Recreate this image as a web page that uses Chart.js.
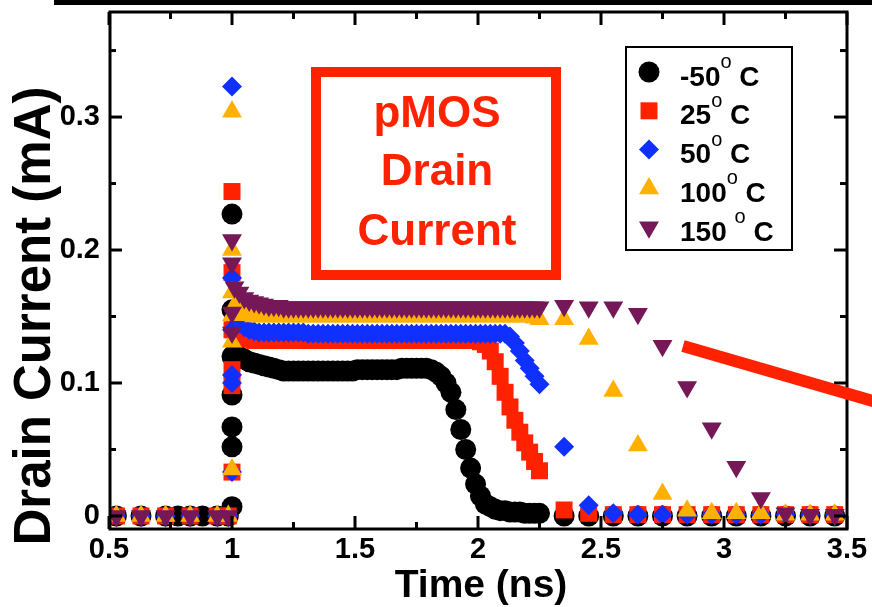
<!DOCTYPE html>
<html>
<head>
<meta charset="utf-8">
<title>pMOS Drain Current</title>
<script src="https://cdn.jsdelivr.net/npm/chart.js@4.4.1/dist/chart.umd.min.js"></script>
<style>
    body { margin: 0; background: #fff; }
    canvas { display: block; }
</style>
</head>
<body>
<canvas id="drainChart" width="872" height="607"></canvas>
<script>
// temperatures (legend)
const tempLabels = ['-50', '25', '50', '100', '150 '];

// axis ticks
const xMajorTicks = [0.5, 1, 1.5, 2, 2.5, 3, 3.5];
const xMinorTicks = [0.75, 1.25, 1.75, 2.25, 2.75, 3.25];
const yMajorTicks = [0, 0.1, 0.2, 0.3];
const yMinorTicks = [0.05, 0.15, 0.25, 0.35];

// sample times (ns)
const preTimes = [0.53, 0.63, 0.73, 0.83, 0.94, 0.985];
const blackPreTimes = [0.53, 0.63, 0.73, 0.78, 0.83, 0.88, 0.94, 0.985];
const spikeTime = 1.0;
const denseTimes = [
    1.01, 1.03, 1.05, 1.07, 1.09, 1.11, 1.13, 1.15, 1.17, 1.19,
    1.21, 1.23, 1.25, 1.27, 1.29, 1.31, 1.33, 1.35, 1.37, 1.39,
    1.41, 1.43, 1.45, 1.47, 1.49, 1.51, 1.53, 1.55, 1.57, 1.59,
    1.61, 1.63, 1.65, 1.67, 1.69, 1.71, 1.73, 1.75, 1.77, 1.79,
    1.81, 1.83, 1.85, 1.87, 1.89, 1.91, 1.93, 1.95, 1.97, 1.99,
    2.01, 2.03, 2.05, 2.07, 2.09, 2.11, 2.13, 2.15, 2.17, 2.19,
    2.21, 2.23, 2.25
];
const tailTimes = [2.35, 2.45, 2.55, 2.65, 2.75, 2.85, 2.95, 3.05, 3.15, 3.25, 3.35, 3.45];

// drain current (mA)
const preZeros = [0, 0, 0, 0, 0, 0];
const blackPreZeros = [0, 0, 0, 0, 0, 0, 0, 0];

// -50 C
const m50Spike = [0.227, 0.155, 0.12, 0.091, 0.067, 0.052, 0.007];
const m50Dense = [
    0.122, 0.120, 0.118, 0.116, 0.115, 0.114, 0.113, 0.112, 0.111, 0.110,
    0.109, 0.109, 0.109, 0.109, 0.109, 0.109, 0.109, 0.109, 0.109, 0.109,
    0.109, 0.109, 0.109, 0.109, 0.109, 0.110, 0.110, 0.110, 0.110, 0.110,
    0.110, 0.110, 0.110, 0.110, 0.111, 0.111, 0.111, 0.111, 0.111, 0.111,
    0.110, 0.108, 0.105, 0.100, 0.093, 0.080, 0.065, 0.050, 0.036, 0.024,
    0.015, 0.009, 0.007, 0.005, 0.004, 0.004, 0.003, 0.003, 0.003, 0.002,
    0.002, 0.002, 0.002
];
const m50Tail = [0, 0, 0, 0, 0, 0, 0, 0, 0, 0, 0, 0];

// 25 C
const t25Spike = [0.244, 0.183, 0.14, 0.11, 0.098, 0.033];
const t25Dense = [
    0.140, 0.136, 0.134, 0.133, 0.132, 0.132, 0.132, 0.132, 0.132, 0.132,
    0.132, 0.132, 0.132, 0.132, 0.132, 0.132, 0.132, 0.132, 0.132, 0.132,
    0.132, 0.132, 0.132, 0.132, 0.132, 0.132, 0.132, 0.132, 0.132, 0.132,
    0.132, 0.132, 0.132, 0.132, 0.132, 0.132, 0.132, 0.132, 0.132, 0.132,
    0.132, 0.132, 0.132, 0.132, 0.132, 0.132, 0.132, 0.132, 0.132, 0.132,
    0.131, 0.129, 0.124, 0.116, 0.105, 0.093, 0.082, 0.072, 0.063, 0.055,
    0.048, 0.041, 0.034
];
const t25Tail = [0.0045, 0.002, 0.001, 0.001, 0.001, 0.001, 0.001, 0.001, 0.001, 0.001, 0.001, 0.001];

// 50 C
const t50Spike = [0.323, 0.179, 0.14, 0.106, 0.1, 0.033];
const t50Dense = [
    0.150, 0.145, 0.142, 0.140, 0.139, 0.138, 0.138, 0.138, 0.138, 0.138,
    0.138, 0.138, 0.138, 0.138, 0.138, 0.137, 0.137, 0.137, 0.137, 0.137,
    0.137, 0.137, 0.137, 0.137, 0.137, 0.137, 0.137, 0.137, 0.137, 0.137,
    0.137, 0.137, 0.137, 0.137, 0.137, 0.137, 0.137, 0.137, 0.137, 0.137,
    0.137, 0.137, 0.137, 0.137, 0.137, 0.137, 0.137, 0.137, 0.137, 0.137,
    0.137, 0.137, 0.137, 0.137, 0.137, 0.137, 0.135, 0.130, 0.124, 0.117,
    0.111, 0.105, 0.099
];
const t50Tail = [0.052, 0.008, 0.002, 0.001, 0.001, 0.001, 0.001, 0.001, 0.001, 0.001, 0.001, 0.001];

// 100 C
const t100Spike = [0.304, 0.2, 0.168, 0.151, 0.131, 0.035];
const t100Dense = [
    0.158, 0.154, 0.152, 0.151, 0.150, 0.150, 0.150, 0.150, 0.150, 0.150,
    0.150, 0.150, 0.150, 0.150, 0.150, 0.150, 0.150, 0.150, 0.150, 0.150,
    0.150, 0.150, 0.150, 0.150, 0.150, 0.150, 0.150, 0.150, 0.150, 0.150,
    0.150, 0.150, 0.150, 0.150, 0.150, 0.150, 0.150, 0.150, 0.150, 0.150,
    0.150, 0.150, 0.150, 0.150, 0.150, 0.150, 0.150, 0.150, 0.150, 0.150,
    0.150, 0.150, 0.150, 0.150, 0.150, 0.150, 0.150, 0.150, 0.150, 0.150,
    0.150, 0.149, 0.148
];
const t100Tail = [0.148, 0.133, 0.094, 0.053, 0.0165, 0.004, 0.002, 0.002, 0.002, 0.001, 0.001, 0.001];

// 150 C
const t150Spike = [0.2075, 0.19, 0.153, 0.138];
const t150Dense = [
    0.172, 0.168, 0.164, 0.162, 0.161, 0.160, 0.159, 0.158, 0.158, 0.158,
    0.157, 0.157, 0.157, 0.157, 0.157, 0.157, 0.157, 0.157, 0.157, 0.157,
    0.157, 0.157, 0.157, 0.157, 0.157, 0.157, 0.157, 0.157, 0.157, 0.157,
    0.157, 0.157, 0.157, 0.157, 0.157, 0.157, 0.157, 0.157, 0.157, 0.157,
    0.157, 0.157, 0.157, 0.157, 0.157, 0.157, 0.157, 0.157, 0.157, 0.157,
    0.157, 0.157, 0.157, 0.157, 0.157, 0.157, 0.157, 0.157, 0.157, 0.157,
    0.157, 0.157, 0.157
];
const t150Tail = [0.158, 0.157, 0.157, 0.152, 0.128, 0.097, 0.066, 0.037, 0.0135, 0.002, 0.001, 0.001];

const fontFamily = '"Liberation Sans", Arial, sans-serif';

function buildPoints(pTimes, pVals, spikeVals, denseVals, tailVals) {
    var pts = [];
    pTimes.forEach(function (t, i) { pts.push({ x: t, y: pVals[i] }); });
    spikeVals.forEach(function (v) { pts.push({ x: spikeTime, y: v }); });
    denseTimes.forEach(function (t, i) { pts.push({ x: t, y: denseVals[i] }); });
    tailTimes.forEach(function (t, i) { pts.push({ x: t, y: tailVals[i] }); });
    return pts;
}

const seriesStyles = [
    { color: '#000000', style: 'circle', rot: 0, r: 10.5 },
    { color: '#ff2200', style: 'rect', rot: 0, r: 12 },
    { color: '#1030ff', style: 'rectRot', rot: 0, r: 10 },
    { color: '#ffb000', style: 'triangle', rot: 0, r: 11.5 },
    { color: '#761857', style: 'triangle', rot: 180, r: 11.5 }
];

const seriesData = [
    buildPoints(blackPreTimes, blackPreZeros, m50Spike, m50Dense, m50Tail),
    buildPoints(preTimes, preZeros, t25Spike, t25Dense, t25Tail),
    buildPoints(preTimes, preZeros, t50Spike, t50Dense, t50Tail),
    buildPoints(preTimes, preZeros, t100Spike, t100Dense, t100Tail),
    buildPoints(preTimes, preZeros, t150Spike, t150Dense, t150Tail)
];

const datasets = seriesData.map(function (pts, i) {
    var s = seriesStyles[i];
    return {
        label: tempLabels[i].trim() + '\u00b0 C',
        data: pts,
        pointStyle: s.style,
        pointRotation: s.rot,
        pointRadius: s.r,
        pointHoverRadius: s.r,
        pointBackgroundColor: s.color,
        pointBorderWidth: 0,
        borderColor: s.color,
        backgroundColor: s.color,
        showLine: false,
        order: 5 - i  // -50 drawn first, 150 on top
    };
});

function drawMarker(ctx, s, x, y) {
    ctx.fillStyle = s.color;
    ctx.beginPath();
    if (s.style === 'circle') {
        ctx.arc(x, y, s.r, 0, Math.PI * 2);
    } else if (s.style === 'rect') {
        var h = s.r * Math.SQRT1_2;
        ctx.rect(x - h, y - h, 2 * h, 2 * h);
    } else if (s.style === 'rectRot') {
        ctx.moveTo(x, y - s.r);
        ctx.lineTo(x + s.r, y);
        ctx.lineTo(x, y + s.r);
        ctx.lineTo(x - s.r, y);
    } else {
        var a = s.rot * Math.PI / 180;
        for (var k = 0; k < 3; k++) {
            var px = x + Math.sin(a) * s.r, py = y - Math.cos(a) * s.r;
            if (k === 0) ctx.moveTo(px, py); else ctx.lineTo(px, py);
            a += Math.PI * 2 / 3;
        }
    }
    ctx.closePath();
    ctx.fill();
}

function line(ctx, x1, y1, x2, y2) {
    ctx.beginPath();
    ctx.moveTo(x1, y1);
    ctx.lineTo(x2, y2);
    ctx.stroke();
}

const decorPlugin = {
    id: 'decor',
    afterDatasetsDraw: function (chart) {
        var ctx = chart.ctx, area = chart.chartArea;
        var xs = chart.scales.x, ys = chart.scales.y;
        ctx.save();
        ctx.strokeStyle = '#000';
        ctx.lineWidth = 3;
        ctx.strokeRect(area.left + 1, area.top, area.right - area.left - 1, area.bottom - area.top);
        // inward ticks on all four sides
        xMajorTicks.forEach(function (v) {
            var px = xs.getPixelForValue(v);
            line(ctx, px, area.bottom, px, area.bottom - 13);
            line(ctx, px, area.top, px, area.top + 13);
        });
        xMinorTicks.forEach(function (v) {
            var px = xs.getPixelForValue(v);
            line(ctx, px, area.bottom, px, area.bottom - 7);
            line(ctx, px, area.top, px, area.top + 7);
        });
        yMajorTicks.forEach(function (v) {
            var py = ys.getPixelForValue(v);
            line(ctx, area.left, py, area.left + 13, py);
            line(ctx, area.right, py, area.right - 13, py);
        });
        yMinorTicks.forEach(function (v) {
            var py = ys.getPixelForValue(v);
            line(ctx, area.left, py, area.left + 7, py);
            line(ctx, area.right, py, area.right - 7, py);
        });
        ctx.restore();
    },
    afterDraw: function (chart) {
        var ctx = chart.ctx;
        ctx.save();

        // black bar at the very top
        ctx.fillStyle = '#000';
        ctx.fillRect(54, 0, 818, 5);

        // axis titles
        ctx.fillStyle = '#000';
        ctx.font = 'bold 39px ' + fontFamily;
        ctx.textAlign = 'center';
        ctx.textBaseline = 'alphabetic';
        ctx.fillText('Time (ns)', 481, 597);
        ctx.save();
        ctx.translate(50, 316);
        ctx.rotate(-Math.PI / 2);
        ctx.font = 'bold 51px ' + fontFamily;
        ctx.fillText('Drain Current (mA)', 0, 0);
        ctx.restore();

        // red label box
        ctx.strokeStyle = '#ff2200';
        ctx.lineWidth = 10;
        ctx.strokeRect(316, 72, 240, 203);
        ctx.fillStyle = '#ff2200';
        ctx.font = 'bold 44px ' + fontFamily;
        ctx.fillText('pMOS', 437, 127);
        ctx.fillText('Drain', 437, 185);
        ctx.fillText('Current', 437, 245);

        // red pointer line
        ctx.lineWidth = 12;
        line(ctx, 683, 346, 880, 403);

        // legend
        ctx.fillStyle = '#fff';
        ctx.fillRect(626, 47, 166, 203);
        ctx.strokeStyle = '#000';
        ctx.lineWidth = 2;
        ctx.strokeRect(626, 47, 166, 203);
        ctx.textAlign = 'left';
        tempLabels.forEach(function (lab, i) {
            var y = 72 + i * 38.8;
            drawMarker(ctx, seriesStyles[i], 649, y);
            ctx.fillStyle = '#000';
            ctx.font = 'bold 28px ' + fontFamily;
            ctx.fillText(lab, 680, y + 13.5);
            var x = 680 + ctx.measureText(lab).width;
            ctx.font = '20px ' + fontFamily;
            ctx.fillText('o', x, y - 4);
            x += ctx.measureText('o').width;
            ctx.font = 'bold 28px ' + fontFamily;
            ctx.fillText(' C', x, y + 13.5);
        });

        ctx.restore();
    }
};

const tickFont = { family: fontFamily, weight: 'bold', size: 29 };

function fixPadding(scale) {
    scale.paddingTop = 0;
    scale.paddingBottom = 0;
    scale.paddingLeft = 0;
    scale.paddingRight = 0;
}

new Chart(document.getElementById('drainChart'), {
    type: 'scatter',
    data: { datasets: datasets },
    options: {
        responsive: false,
        animation: false,
        devicePixelRatio: 1,
        layout: { padding: { left: 0, right: 25, top: 12, bottom: 0 } },
        plugins: {
            legend: { display: false },
            tooltip: { enabled: false }
        },
        scales: {
            x: {
                type: 'linear',
                min: 0.5,
                max: 3.5,
                grid: { display: false, drawTicks: false },
                border: { display: false },
                ticks: {
                    font: tickFont,
                    color: '#000',
                    padding: 4,
                    maxRotation: 0,
                    autoSkip: false,
                    callback: function (v) { return String(v); }
                },
                afterBuildTicks: function (scale) {
                    scale.ticks = xMajorTicks.map(function (v) { return { value: v }; });
                },
                afterFit: function (scale) { scale.height = 78; fixPadding(scale); }
            },
            y: {
                type: 'linear',
                min: -0.0098,
                max: 0.379,
                grid: { display: false, drawTicks: false },
                border: { display: false },
                ticks: {
                    font: tickFont,
                    color: '#000',
                    padding: 9,
                    autoSkip: false,
                    callback: function (v) { return String(v); }
                },
                afterBuildTicks: function (scale) {
                    scale.ticks = yMajorTicks.map(function (v) { return { value: v }; });
                },
                afterFit: function (scale) { scale.width = 109; fixPadding(scale); }
            }
        }
    },
    plugins: [decorPlugin]
});
</script>
</body>
</html>
